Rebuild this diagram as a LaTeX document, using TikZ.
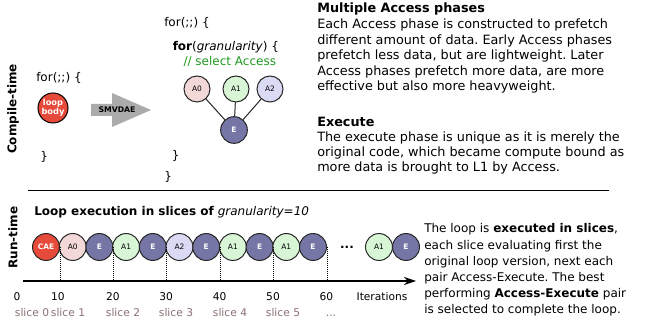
\documentclass[tikz,border=0pt]{standalone}
\usepackage{fontspec}
\setmainfont{DejaVu Sans}
\usetikzlibrary{arrows.meta}
\definecolor{bodyred}{HTML}{E64A3A}
\definecolor{accpink}{HTML}{F3D8D8}
\definecolor{accgreen}{HTML}{D8F5D6}
\definecolor{acclav}{HTML}{DADAF4}
\definecolor{execblue}{HTML}{7676A6}
\definecolor{commentgreen}{HTML}{1E9A1E}
\definecolor{slicegray}{HTML}{8A7070}
\definecolor{arrowgray}{HTML}{ABABAB}
\newcommand\fsz[2]{\fontsize{#1}{#2}\selectfont}
\frenchspacing
\begin{document}
\begin{tikzpicture}[x=0.75pt,y=-0.75pt,
  phase/.style={circle,draw=black!85,line width=0.75pt,inner sep=0pt,minimum size=20.2pt,font=\fsz{5.6}{6}},
  acczero/.style={phase,fill=accpink},
  accone/.style={phase,fill=accgreen},
  acctwo/.style={phase,fill=acclav},
  execph/.style={phase,fill=execblue,text=white,font=\bfseries\fsz{5.6}{6}},
  caeph/.style={phase,fill=bodyred,text=white,font=\bfseries\fsz{5.6}{6}},
  code/.style={anchor=base west,inner sep=0pt,font=\fsz{9}{11}},
  para/.style={anchor=north west,inner sep=0pt,align=left},
  sidelabel/.style={rotate=90,inner sep=0pt,font=\bfseries\fsz{9}{11}},
  ticklbl/.style={anchor=base,inner sep=0pt,font=\fsz{8}{10}},
  slicelbl/.style={anchor=base,inner sep=0pt,font=\fsz{8}{10},text=slicegray},
  link/.style={draw=black!85,line width=0.75pt},
  marker/.style={densely dotted,line width=0.5pt}
]
\useasboundingbox (0,0) rectangle (645,323);

% ---------- compile-time part ----------
\node[sidelabel] (ctime) at (13,109) {Compile-time};
\node[code] (forA) at (36,81.5) {for(;;) \{};
\node[circle,draw=black,line width=0.75pt,fill=bodyred,text=white,inner sep=0pt,
      minimum size=22.5pt,align=center,font=\bfseries\fsz{6.2}{6.6}] (body) at (53,108) {loop\\body};
\node[code] (closeA) at (40,161) {\}};

% transformation arrow
\fill[arrowgray] (91,104) -- (112,104) -- (112,93) -- (151,110) -- (112,127) -- (112,116) -- (91,116) -- cycle;
\node[inner sep=0pt,font=\bfseries\fsz{5.8}{6}] (smv) at (117,110) {SMVDAE};

% transformed loop
\node[code] (forB) at (164,26.5) {for(;;) \{};
\node[code] (forC) at (172.5,50.7) {\textbf{for}(\textit{granularity}) \{};
\node[code,text=commentgreen] (cmt) at (183.3,65.7) {// select Access};
\node[acczero,minimum size=19.5pt] (ta0) at (197,89) {A0};
\node[accone,minimum size=19.5pt] (ta1) at (236,89) {A1};
\node[acctwo,minimum size=19.5pt] (ta2) at (270,89) {A2};
\node[execph,minimum size=20pt] (te) at (234,130) {E};
\draw[link] (ta0) -- (te);
\draw[link] (ta1) -- (te);
\draw[link] (ta2) -- (te);
\node[code] (closeC) at (171.5,160) {\}};
\node[code] (closeB) at (164,181) {\}};

% explanations
\node[para,font=\fsz{9.6}{11.7}] (multi) at (317,3) {\textbf{Multiple Access phases}\\
Each Access phase is constructed to prefetch\\
different amount of data. Early Access phases\\
prefetch less data, but are lightweight. Later\\
Access phases prefetch more data, are more\\
effective but also more heavyweight.};
\node[para,font=\fsz{9.6}{11.25}] (execnote) at (317,117) {\textbf{Execute}\\
The execute phase is unique as it is merely the\\
original code, which became compute bound as\\
more data is brought to L1 by Access.};

% separator
\coordinate (sepl) at (28,190.5);
\coordinate (sepr) at (609,190.5);
\draw[line width=0.8pt] (sepl) -- (sepr);

% ---------- run-time part ----------
\node[sidelabel] (rtime) at (13,237.5) {Run-time};
\node[anchor=base west,inner sep=0pt,font=\fsz{9}{11}] (title) at (34,216)
  {\textbf{Loop execution in slices of} \textit{granularity=10}};

\node[caeph]   (s0)  at (46,247)    {CAE};
\node[acczero] (s1)  at (72.7,247)  {A0};
\node[execph]  (s2)  at (99.4,247)  {E};
\node[accone]  (s3)  at (126.1,247) {A1};
\node[execph]  (s4)  at (152.8,247) {E};
\node[acctwo]  (s5)  at (179.5,247) {A2};
\node[execph]  (s6)  at (206.2,247) {E};
\node[accone]  (s7)  at (232.9,247) {A1};
\node[execph]  (s8)  at (259.6,247) {E};
\node[accone]  (s9)  at (286.3,247) {A1};
\node[execph]  (s10) at (313,247)   {E};
\node[anchor=base,inner sep=0pt,font=\bfseries\fsz{9}{11}] (more) at (347,249) {...};
\node[accone]  (s11) at (379,247)   {A1};
\node[execph]  (s12) at (406,247)   {E};

% iteration axis
\coordinate (axl) at (23,281);
\coordinate (axr) at (416,281);
\draw[line width=0.8pt,-{Stealth[length=9pt,width=6pt]}] (axl) -- (axr);

\foreach \n in {s0,s2,s4,s6,s8,s10}
  \draw[marker] (\n.east) -- (\n.east |- axl);

\node[ticklbl] (t0)  at (17,301)   {0};
\node[ticklbl] (t10) at (58,301)   {10};
\node[ticklbl] (t20) at (112.8,301) {20};
\node[ticklbl] (t30) at (166.2,301) {30};
\node[ticklbl] (t40) at (219.6,301) {40};
\node[ticklbl] (t50) at (273,301)  {50};
\node[ticklbl] (t60) at (326.4,301) {60};
\node[ticklbl] (tit) at (382,301)  {Iterations};

\node[slicelbl] (l0) at (32,316.5)  {slice 0};
\node[slicelbl] (l1) at (68,316.5)  {slice 1};
\node[slicelbl] (l2) at (123,316.5) {slice 2};
\node[slicelbl] (l3) at (176,316.5) {slice 3};
\node[slicelbl] (l4) at (230,316.5) {slice 4};
\node[slicelbl] (l5) at (283,316.5) {slice 5};
\node[slicelbl] (l6) at (331,316.5) {...};

\node[para,font=\fsz{9}{12.1}] (runnote) at (424,223.5) {The loop is \textbf{executed in slices},\\
each slice evaluating first the\\
original loop version, next each\\
pair Access-Execute. The best\\
performing \textbf{Access-Execute} pair\\
is selected to complete the loop.};
\end{tikzpicture}
\end{document}
